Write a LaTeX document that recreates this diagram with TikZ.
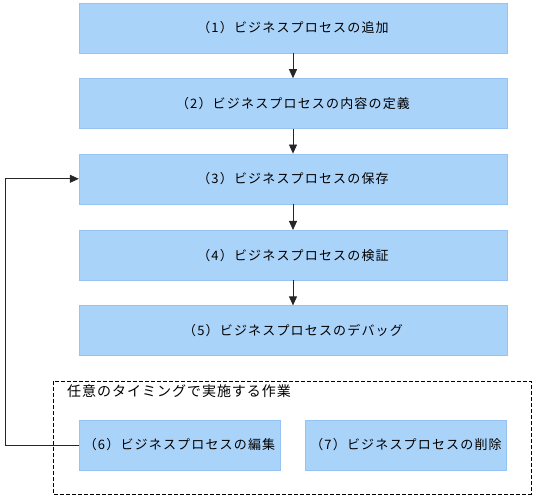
\documentclass[tikz,border=0pt]{standalone}
\usepackage{fontspec}
\setmainfont{Noto Sans CJK JP}[LetterSpace=9]
\newfontfamily\labelfont{Noto Sans CJK JP}[LetterSpace=7]
\usepackage{xcolor}
\usepackage{tikz}
\usetikzlibrary{arrows.meta,positioning,calc}

\definecolor{stepfill}{RGB}{170,211,250}
\definecolor{stepline}{RGB}{150,196,242}

\begin{document}
\begin{tikzpicture}[
    x=1pt, y=-1pt,
    font=\fontsize{13}{15}\selectfont,
    stepbox/.style={draw=stepline, fill=stepfill, inner sep=0pt, minimum height=50pt, align=center},
    wide/.style={stepbox, minimum width=428pt},
    half/.style={stepbox, minimum width=201pt},
    arrow/.style={-{Triangle[length=9pt, width=8pt]}, line width=0.8pt, draw=black!85}
  ]
  \useasboundingbox (0,0) rectangle (536,497);

  \node[wide] (s1) at (293,28) {（1）ビジネスプロセスの追加};
  \node[wide, below=25pt of s1] (s2) {（2）ビジネスプロセスの内容の定義};
  \node[wide, below=25pt of s2] (s3) {（3）ビジネスプロセスの保存};
  \node[wide, below=26pt of s3] (s4) {（4）ビジネスプロセスの検証};
  \node[wide, below=25pt of s4] (s5) {（5）ビジネスプロセスのデバッグ};

  % any-time tasks
  \draw[dashed, dash pattern=on 4pt off 2pt, line width=0.8pt] (53,381) rectangle (531,494);
  \node[anchor=north west, inner sep=0pt, font=\labelfont\fontsize{14}{16}\selectfont] (any) at (67,385) {任意のタイミングで実施する作業};
  \node[half] (s6) at (179.5,445) {（6）ビジネスプロセスの編集};
  \node[half] (s7) at (406,445) {（7）ビジネスプロセスの削除};
  \coordinate (back) at (5,445);

  \draw[arrow] (s1) -- (s2);
  \draw[arrow] (s2) -- (s3);
  \draw[arrow] (s3) -- (s4);
  \draw[arrow] (s4) -- (s5);
  \draw[arrow] (s6.west) -- (back) |- (s3.west);
\end{tikzpicture}
\end{document}
